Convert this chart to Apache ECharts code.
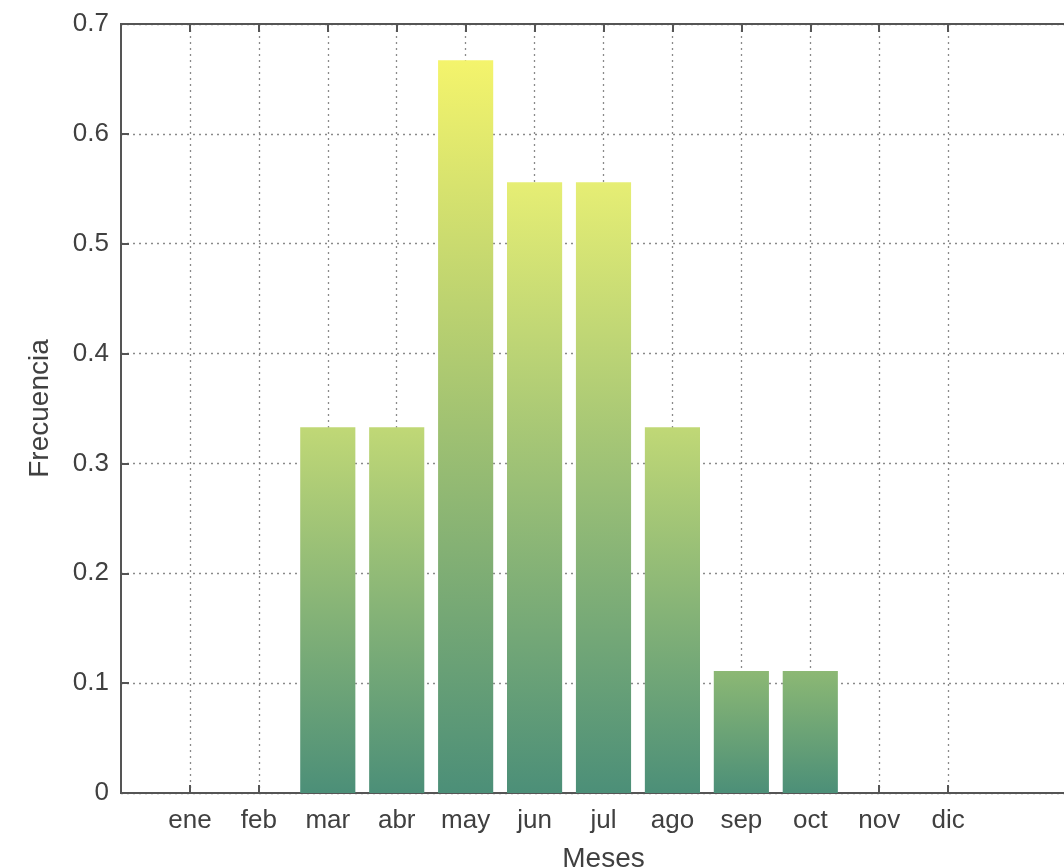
<!DOCTYPE html>
<html>
<head>
<meta charset="utf-8">
<script src="https://cdn.jsdelivr.net/npm/echarts@6/dist/echarts.min.js"></script>
<style>
html,body{margin:0;padding:0;background:#fff;overflow:hidden;}
#main{width:1064px;height:867px;}
</style>
</head>
<body>
<div id="main"></div>
<script>
// ---- data ----
const months = ['ene','feb','mar','abr','may','jun','jul','ago','sep','oct','nov','dic'];
const freq   = [0, 0, 0.333, 0.333, 0.667, 0.556, 0.556, 0.333, 0.111, 0.111, 0, 0];
const yTicks = [0, 0.1, 0.2, 0.3, 0.4, 0.5, 0.6, 0.7];
const xTitle = 'Meses';
const yTitle = 'Frecuencia';

// ---- colour map (bottom -> top) ----
const cmap = [
  [0.0,   [76,143,120]],
  [0.167, [140,184,116]],
  [0.5,   [192,216,118]],
  [0.833, [230,238,116]],
  [1.0,   [244,244,108]]
];
function cm(t){
  t = Math.max(0, Math.min(1, t));
  for (let i = 1; i < cmap.length; i++){
    if (t <= cmap[i][0]){
      const a = cmap[i-1], b = cmap[i];
      const f = (t - a[0]) / (b[0] - a[0]);
      const c = a[1].map((v,k)=>Math.round(v + (b[1][k]-v)*f));
      return 'rgb(' + c.join(',') + ')';
    }
  }
  const c = cmap[cmap.length-1][1];
  return 'rgb(' + c.join(',') + ')';
}
const vmax = Math.max(...freq);

// axis runs from 0 to 14 like the original (positions 0..14, months at 1..12)
const axisCats = [''].concat(months, ['','']);
const barData = [null].concat(freq.map(v => ({
  value: v,
  itemStyle: {
    color: new echarts.graphic.LinearGradient(0,0,0,1,[
      {offset:0, color: cm(v / vmax)},
      {offset:1, color: cm(0)}
    ])
  }
})), [null, null]);

const isMonth = (i) => i >= 1 && i <= months.length;
const FONT = '"Liberation Sans", Arial, sans-serif';
const TXT = '#404040';
const AX = '#555555';

const chart = echarts.init(document.getElementById('main'), null, {renderer:'canvas'});
chart.setOption({
  animation: false,
  backgroundColor: '#ffffff',
  grid: {left: 121, top: 24, width: 965, height: 769, show: true,
         outerBoundsMode: 'none', containLabel: false,
         borderColor: AX, borderWidth: 2, backgroundColor: 'transparent'},
  xAxis: [{
    type: 'category',
    data: axisCats,
    boundaryGap: false,
    position: 'bottom',
    name: xTitle,
    nameLocation: 'middle',
    nameGap: 52,
    nameTextStyle: {fontFamily: FONT, fontSize: 28, color: TXT},
    axisLine: {show: true, lineStyle: {color: AX, width: 2}},
    axisTick: {show: true, inside: true, length: 8, interval: (i)=>isMonth(i),
               lineStyle: {color: AX, width: 2}},
    axisLabel: {show: true, interval: (i)=>isMonth(i), margin: 15,
                fontFamily: FONT, fontSize: 26, color: TXT},
    splitLine: {show: true, interval: (i)=>isMonth(i),
                lineStyle: {type: [2,4], color: '#8a8a8a', width: 1.3}}
  },{
    type: 'category',
    data: axisCats,
    boundaryGap: false,
    position: 'top',
    axisLine: {show: true, lineStyle: {color: AX, width: 2}},
    axisTick: {show: true, inside: true, length: 8, interval: (i)=>isMonth(i),
               lineStyle: {color: AX, width: 2}},
    axisLabel: {show: false},
    splitLine: {show: false}
  }],
  yAxis: {
    type: 'value',
    min: yTicks[0],
    max: yTicks[yTicks.length-1],
    interval: 0.1,
    name: yTitle,
    nameLocation: 'middle',
    nameGap: 67,
    nameTextStyle: {fontFamily: FONT, fontSize: 28, color: TXT},
    axisLine: {show: true, lineStyle: {color: AX, width: 2}},
    axisTick: {show: true, inside: true, length: 8, lineStyle: {color: AX, width: 2}},
    axisLabel: {margin: 12, fontFamily: FONT, fontSize: 26, color: TXT,
                formatter: (v)=> v === 0 ? '0' : v.toFixed(1)},
    splitLine: {show: true, lineStyle: {type: [2,4], color: '#8a8a8a', width: 1.3}}
  },
  series: [{
    type: 'bar',
    xAxisIndex: 0,
    data: barData,
    barWidth: '80%'
  }]
});
</script>
</body>
</html>
